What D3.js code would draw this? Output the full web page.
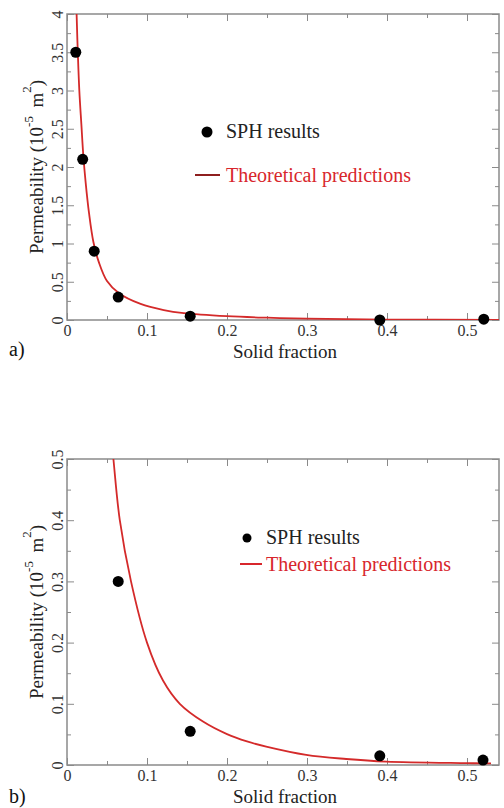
<!DOCTYPE html>
<head>
    <meta charset="utf-8">
    <title>Permeability vs solid fraction</title>
    <script src="https://d3js.org/d3.v7.min.js"></script>
    <style>
        body { margin:0; background:#fff; }
    </style>
</head>

<body>
    <svg id="chart" width="504" height="808"></svg>
    <script>
        // SPH results (solid fraction, permeability 1e-5 m^2)
        const sphFracA = [0.011, 0.0196, 0.034, 0.064, 0.154, 0.391, 0.521];
        const sphPermA = [3.5, 2.1, 0.9, 0.3, 0.05, 0.0, 0.01];
        const sphFracB = [0.064, 0.154, 0.391, 0.520];
        const sphPermB = [0.30, 0.055, 0.015, 0.008];

        // theoretical curve
        const theoFracA = [0.0112, 0.012, 0.0135, 0.0154, 0.018, 0.0204, 0.0233, 0.0275, 0.033, 0.04, 0.05, 0.065, 0.092, 0.121, 0.146, 0.2, 0.25, 0.3, 0.4, 0.54];
        const theoPermA = [4.4, 4.0, 3.5, 3.0, 2.55, 2.15, 1.8, 1.4, 1.02, 0.75, 0.51, 0.35, 0.21, 0.13, 0.09, 0.05, 0.03, 0.017, 0.006, 0.002];
        const theoFracB = [0.055, 0.058, 0.066, 0.080, 0.100, 0.120, 0.141, 0.170, 0.2, 0.225, 0.249, 0.299, 0.349, 0.399, 0.5, 0.53];
        const theoPermB = [0.54, 0.5, 0.4, 0.3, 0.2, 0.138, 0.1, 0.071, 0.0505, 0.0385, 0.030, 0.0165, 0.0098, 0.0055, 0.003, 0.0025];

        const xTicks = [0, 0.1, 0.2, 0.3, 0.4, 0.5];
        const xMinor = [0.05, 0.15, 0.25, 0.35, 0.45];
        const yTicksA = [0, 0.5, 1, 1.5, 2, 2.5, 3, 3.5, 4];
        const yMinorA = [0.25, 0.75, 1.25, 1.75, 2.25, 2.75, 3.25, 3.75];
        const yTicksB = [0, 0.1, 0.2, 0.3, 0.4, 0.5];
        const yMinorB = [0.05, 0.15, 0.25, 0.35, 0.45];

        const serif = "'Liberation Serif', LiberationSerif, Tinos, 'Times New Roman', Times, 'DejaVu Serif', 'Noto Serif', serif";
        const svg = d3.select("#chart");
        const fmt = d3.format("~g");

        function serifText(s) {
            return s.style("font-family", serif);
        }

        function panel(opt) {
            const x = d3.scaleLinear().domain([0, 0.54]).range([67, 499]);
            const y = d3.scaleLinear().domain([0, opt.ymax]).range([opt.bottom, opt.top]);
            const g = svg.append("g");
            const h = opt.bottom - opt.top;

            g.append("clipPath").attr("id", "clip" + opt.id)
                .append("rect").attr("x", 67).attr("y", opt.top).attr("width", 432).attr("height", h);

            // ticks on all four sides, pointing inward
            const axes = [
                [d3.axisBottom(x), `translate(0,${opt.bottom})`, xTicks, xMinor],
                [d3.axisTop(x), `translate(0,${opt.top})`, xTicks, xMinor],
                [d3.axisLeft(y), `translate(67,0)`, opt.yTicks, opt.yMinor],
                [d3.axisRight(y), `translate(499,0)`, opt.yTicks, opt.yMinor]
            ];
            axes.forEach(([ax, tr, major, minor], i) => {
                const gm = g.append("g").attr("transform", tr)
                    .call(ax.tickValues(major).tickSize(-7).tickPadding(i == 0 ? 5 : 4).tickFormat(i == 0 || i == 2 ? fmt : ""));
                const gn = g.append("g").attr("transform", tr)
                    .call(ax.tickValues(minor).tickSize(-4).tickFormat(""));
                [gm, gn].forEach(s => {
                    s.select(".domain").remove();
                    s.selectAll("line").attr("stroke", "#8a8a8a");
                });
                serifText(gm.selectAll("text")).attr("fill", "#333").style("font-size", "16px");
                if (i == 2) {
                    gm.selectAll("text")
                        .attr("x", null).attr("dy", null)
                        .attr("text-anchor", "middle")
                        .attr("transform", "translate(-4,0) rotate(-90)");
                }
            });

            g.append("rect")
                .attr("x", 67).attr("y", opt.top).attr("width", 432).attr("height", h)
                .attr("fill", "none").attr("stroke", "#8a8a8a").attr("stroke-width", 1.5);

            const line = d3.line().x(d => x(d[0])).y(d => y(d[1])).curve(d3.curveCatmullRom.alpha(0.5));
            g.append("path")
                .datum(d3.zip(opt.theoFrac, opt.theoPerm))
                .attr("clip-path", `url(#clip${opt.id})`)
                .attr("fill", "none").attr("stroke", "#d42a2a").attr("stroke-width", 1.8)
                .attr("d", line);

            g.append("g").selectAll("circle")
                .data(d3.zip(opt.sphFrac, opt.sphPerm))
                .join("circle")
                .attr("cx", d => x(d[0])).attr("cy", d => y(d[1]))
                .attr("r", 5.5).attr("fill", "#000");

            // axis titles
            serifText(g.append("text"))
                .attr("x", 285).attr("y", opt.bottom + 38)
                .attr("text-anchor", "middle").style("font-size", "19px").attr("fill", "#222")
                .text("Solid fraction");

            const yl = serifText(g.append("text"))
                .attr("transform", `translate(43,${(opt.top + opt.bottom) / 2}) rotate(-90)`)
                .attr("text-anchor", "middle").style("font-size", "19px").attr("fill", "#222");
            yl.append("tspan").text("Permeability (10");
            yl.append("tspan").attr("dy", -10).style("font-size", "13px").text("-5");
            yl.append("tspan").attr("dy", 10).text("\u2009 m");
            yl.append("tspan").attr("dy", -12).style("font-size", "13px").text("2");
            yl.append("tspan").attr("dy", 12).text(")");

            serifText(g.append("text"))
                .attr("x", 9).attr("y", opt.labelY)
                .style("font-size", "20px").attr("fill", "#111")
                .text(opt.label);

            // legend
            const L = opt.legend;
            g.append("circle").attr("cx", L.dotX).attr("cy", L.y1 - 6).attr("r", L.r).attr("fill", "#000");
            serifText(g.append("text")).attr("x", L.textX).attr("y", L.y1)
                .style("font-size", "20px").attr("fill", "#222").text("SPH results");
            g.append("line").attr("x1", L.lineX0).attr("x2", L.lineX1)
                .attr("y1", L.y2 - 7).attr("y2", L.y2 - 7)
                .attr("stroke", L.lineColor).attr("stroke-width", 2);
            serifText(g.append("text")).attr("x", L.textX).attr("y", L.y2)
                .style("font-size", "20px").attr("fill", "#d8262c").text("Theoretical predictions");
        }

        panel({
            id: "a", top: 14, bottom: 320, ymax: 4,
            yTicks: yTicksA, yMinor: yMinorA,
            sphFrac: sphFracA, sphPerm: sphPermA,
            theoFrac: theoFracA, theoPerm: theoPermA,
            label: "a)", labelY: 356,
            legend: { dotX: 207, textX: 226, y1: 138, y2: 182, r: 5.5, lineX0: 195, lineX1: 220, lineColor: "#8e1f1f" }
        });

        panel({
            id: "b", top: 459, bottom: 765, ymax: 0.5,
            yTicks: yTicksB, yMinor: yMinorB,
            sphFrac: sphFracB, sphPerm: sphPermB,
            theoFrac: theoFracB, theoPerm: theoPermB,
            label: "b)", labelY: 803,
            legend: { dotX: 247, textX: 266, y1: 544, y2: 571, r: 4.5, lineX0: 240, lineX1: 262, lineColor: "#d8262c" }
        });
    </script>
</body>
